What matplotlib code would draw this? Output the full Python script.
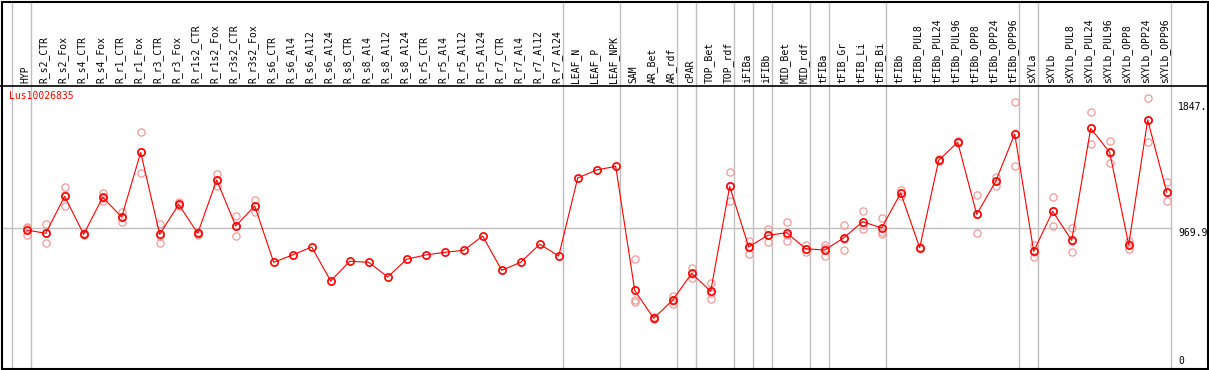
import matplotlib
matplotlib.use("Agg")
import matplotlib.pyplot as plt
import matplotlib.transforms as mtransforms

gene = "Lus10026835"

samples = ["HYP", "R_s2_CTR", "R_s2_Fox", "R_s4_CTR", "R_s4_Fox", "R_r1_CTR", "R_r1_Fox",
           "R_r3_CTR", "R_r3_Fox", "R_r1s2_CTR", "R_r1s2_Fox", "R_r3s2_CTR", "R_r3s2_Fox",
           "R_s6_CTR", "R_s6_Al4", "R_s6_Al12", "R_s6_Al24", "R_s8_CTR", "R_s8_Al4",
           "R_s8_Al12", "R_s8_Al24", "R_r5_CTR", "R_r5_Al4", "R_r5_Al12", "R_r5_Al24",
           "R_r7_CTR", "R_r7_Al4", "R_r7_Al12", "R_r7_Al24", "LEAF_N", "LEAF_P", "LEAF_NPK",
           "SAM", "AR_Bet", "AR_rdf", "cPAR", "TOP_Bet", "TOP_rdf", "iFIBa", "iFIBb",
           "MID_Bet", "MID_rdf", "tFIBa", "tFIB_Gr", "tFIB_Li", "tFIB_Bi", "tFIBb",
           "tFIBb_PUL8", "tFIBb_PUL24", "tFIBb_PUL96", "tFIBb_OPP8", "tFIBb_OPP24",
           "tFIBb_OPP96", "sXYLa", "sXYLb", "sXYLb_PUL8", "sXYLb_PUL24", "sXYLb_PUL96",
           "sXYLb_OPP8", "sXYLb_OPP24", "sXYLb_OPP96"]

means = [958, 935, 1192, 928, 1185, 1048, 1497, 928, 1136, 935, 1305, 986, 1125,
         734, 785, 840, 604, 741, 734, 632, 755, 785, 803, 817, 916, 678, 734, 859, 778,
         1319, 1375, 1400,
         539, 345, 472, 657, 532, 1261, 840, 921, 939, 828, 819, 903, 1016, 972,
         1215, 835, 1442, 1567, 1067, 1296, 1625,
         810, 1088, 886, 1664, 1497, 856, 1722, 1220]

replicates = [[981, 970, 920], [1000, 866, 938], [1255, 1123, 1198], [935, 922, 928],
              [1213, 1159, 1183], [1081, 1016, 1047], [1641, 1352, 1498], [1000, 866, 918],
              [1150, 1125, 1133], [945, 922, 938], [1344, 1264, 1307], [1053, 916, 989],
              [1166, 1083, 1126],
              [], [], [], [], [], [], [], [], [], [], [], [], [], [], [], [],
              [], [], [],
              [755, 472, 458], [352, 340, 343], [502, 446, 468], [694, 627, 650],
              [592, 481, 523], [1361, 1159, 1263], [884, 789, 847], [967, 873, 923],
              [1014, 880, 923], [852, 805, 827], [852, 775, 830], [993, 817, 899],
              [1090, 963, 995], [1039, 930, 947],
              [1235, 1195, 1215], [838, 832, 835], [1448, 1436, 1442], [1575, 1560, 1567],
              [1199, 935, 1067], [1324, 1266, 1298], [1845, 1403, 1627],
              [854, 773, 803], [1187, 986, 1091], [972, 803, 883], [1775, 1553, 1664],
              [1574, 1421, 1496], [880, 824, 864], [1872, 1569, 1725], [1289, 1157, 1214]]

group_ends = [-1, 0, 28, 31, 34, 35, 37, 38, 39, 41, 42, 45, 52, 53, 60]
ref_values = [1847, 969.9, 0]
ref_labels = ["1847.", "969.9", "0"]

W, H = 1209, 370
fig = plt.figure(figsize=(W / 100, H / 100), dpi=100)
mono = "DejaVu Sans Mono"

x0_px, step_px = 26.7, 19.0
left_px, right_px = 2, 1207
xlim = ((left_px - x0_px) / step_px, (right_px - x0_px) / step_px)
ymax = 1847 * 1.06

ax = fig.add_axes([left_px / W, 2 / H, (right_px - left_px) / W, 282 / H])
axl = fig.add_axes([left_px / W, 284 / H, (right_px - left_px) / W, 85 / H])
for a in (ax, axl):
    a.set_xlim(*xlim)
    a.set_xticks([])
    a.set_yticks([])
    for s in a.spines.values():
        s.set_visible(False)
ax.set_ylim(0, ymax)
axl.set_ylim(0, 1)

# outer frame + separator
fig.add_artist(plt.Rectangle((1.5 / W, 1.5 / H), (W - 3) / W, (H - 3) / H,
                             transform=fig.transFigure, fill=False, ec="black", lw=1.5))
fig.add_artist(plt.Line2D([0, 1], [284 / H, 284 / H], transform=fig.transFigure,
                          color="black", lw=1.2))

off = 4 / step_px
for g in group_ends:
    for a in (ax, axl):
        a.axvline(g + off, color="#c0c0c0", lw=1.0, zorder=0)

last = group_ends[-1] + off
ax.plot([xlim[0], last], [ref_values[1]] * 2, color="#c0c0c0", lw=1.0, zorder=0)

xs = list(range(len(samples)))
for i, reps in enumerate(replicates):
    if reps:
        ax.plot([i] * len(reps), reps, linestyle="none", marker="o", ms=5.2,
                mfc="none", mec="#f09a9a", mew=0.9, zorder=2)
ax.plot(xs, means, color="red", lw=0.8, zorder=3)
ax.plot(xs, means, linestyle="none", marker="o", ms=5.2, mfc="none", mec="red",
        mew=1.2, zorder=4)

for i, s in enumerate(samples):
    axl.text(i - 0.09, 3 / 85, s, rotation=90, ha="center", va="bottom",
             family=mono, fontsize=7, color="black")

xr = (1178 - x0_px) / step_px
for v, lab in zip(ref_values, ref_labels):
    if v == 0:
        tr = ax.transData + mtransforms.ScaledTranslation(0, 2 / 100, fig.dpi_scale_trans)
        ax.text(xr, v, lab, ha="left", va="bottom", family=mono, fontsize=7, transform=tr)
    else:
        ax.text(xr, v, lab, ha="left", va="top", family=mono, fontsize=7)

fig.text(9 / W, 1 - 91 / H, gene, color="red", family=mono, fontsize=7,
         ha="left", va="top")

fig.savefig("out.png", dpi=100)
